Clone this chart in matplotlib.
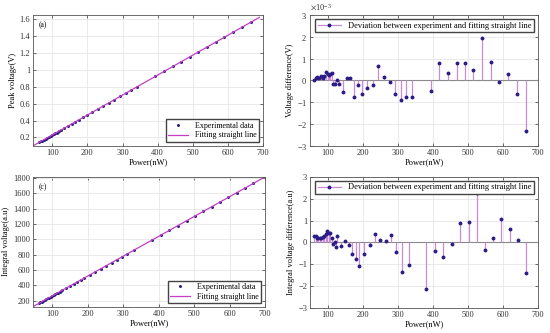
import numpy as np
import matplotlib
matplotlib.use("Agg")
import matplotlib.pyplot as plt
from matplotlib.lines import Line2D
from matplotlib.legend_handler import HandlerLine2D
from matplotlib.ticker import ScalarFormatter

plt.rcParams['font.family'] = ['Liberation Serif', 'DejaVu Serif']
plt.rcParams['font.size'] = 6
plt.rcParams['mathtext.fontset'] = 'stix'

# ---- data ----
# (a)/(b) peak voltage
power_b = [62, 67, 71, 76, 81, 86, 90, 95, 100, 105, 108, 112, 116, 120, 126, 133,
           145, 155, 165, 176, 188, 199, 214, 230, 245, 262, 277, 293, 310, 325, 342,
           394, 419, 444, 468, 492, 516, 541, 566, 590, 615, 640, 665]
peak_v = [0.140, 0.152, 0.161, 0.173, 0.185, 0.197, 0.206, 0.218, 0.230, 0.242, 0.249, 0.258,
          0.268, 0.277, 0.291, 0.308, 0.336, 0.360, 0.383, 0.409, 0.438, 0.464, 0.499, 0.537,
          0.573, 0.612, 0.648, 0.686, 0.726, 0.761, 0.801, 0.924, 0.983, 1.042, 1.098,
          1.155, 1.212, 1.271, 1.330, 1.386, 1.445, 1.504, 1.563]
dev_peak_mV = [0.03, 0.10, 0.15, 0.10, 0.20, 0.10, 0.20, 0.40, 0.30, 0.25, 0.30, 0.33,
               -0.15, -0.15, 0.00, -0.15, -0.55, 0.13, 0.10, -0.77, -0.22, -0.60, -0.35,
               -0.20, 0.68, 0.15, -0.08, -0.60, -0.92, -0.77, -0.77, -0.47, 0.82, 0.32,
               0.80, 0.78, 0.50, 1.93, 0.86, -0.05, 0.30, -0.62, -2.30]
fit_a_x = [45, 690]
fit_a_y = [0.100, 1.622]

# (c)/(d) integral voltage
power_d = [62, 66, 70, 74, 78, 82, 86, 90, 95, 99, 103, 107, 112, 116, 120, 124, 128,
           138, 150, 160, 170, 181, 190, 205, 221, 236, 251, 267, 281, 296, 311, 331,
           382, 406, 430, 454, 479, 502, 526, 550, 572, 596, 620, 644, 667]
integ_v = [169, 179, 190, 200, 210, 220, 231, 241, 254, 264, 274, 285, 298, 308, 318, 329,
           339, 365, 396, 421, 447, 475, 499, 537, 579, 617, 656, 697, 733, 772, 810,
           862, 993, 1055, 1117, 1179, 1243, 1303, 1364, 1426, 1483, 1545, 1607, 1669, 1728]
dev_integ = [0.30, 0.30, 0.20, 0.20, 0.18, 0.20, 0.25, 0.30, 0.40, 0.52, 0.42, 0.45, 0.20,
             -0.05, 0.00, -0.20, 0.28, -0.15, 0.05, -0.12, -0.52, -0.75, -1.08, -0.53,
             -0.13, 0.40, 0.10, 0.08, 0.33, -0.45, -1.35, -1.05, -2.15, -0.37, -0.67,
             -0.07, 0.87, 0.92, 2.27, -0.33, 0.20, 1.08, 0.62, 0.10, -1.38]
fit_c_x = [45, 700]
fit_c_y = [125, 1812]

dot_color = '#2b1d86'
fit_color = '#c23fc6'
stem_color = '#c98ad8'
legend_text = 'Deviation between experiment and fitting straight line'


class EndMarkerHandler(HandlerLine2D):
    # put the legend marker at the right end of the line, like MATLAB stem legends
    def get_xdata(self, legend, xdescent, ydescent, width, height, fontsize):
        xdata = [-xdescent, -xdescent + width]
        return xdata, [-xdescent + width * 0.92]


fig = plt.figure(figsize=(5.5, 3.33), dpi=100)
ax_a = fig.add_axes([0.060, 0.562, 0.418, 0.393])
ax_b = fig.add_axes([0.5636, 0.562, 0.4145, 0.393])
ax_c = fig.add_axes([0.060, 0.078, 0.422, 0.391])
ax_d = fig.add_axes([0.5636, 0.075, 0.4145, 0.394])


def style(ax):
    ax.grid(True, color='#e6e6e6', linewidth=0.6)
    ax.set_axisbelow(True)
    ax.tick_params(direction='in', top=True, right=True, length=2.5, width=0.5,
                   colors='#333333', labelsize=6, pad=2)
    for s in ax.spines.values():
        s.set_color('#555555')
        s.set_linewidth(0.6)


def stem_legend(ax):
    proxy = Line2D([0], [0], color=stem_color, linewidth=0.9, marker='o',
                   markersize=1.8, markerfacecolor=dot_color, markeredgecolor=dot_color)
    ax.legend([proxy], [legend_text], loc='upper right', fontsize=6, numpoints=1,
              handler_map={proxy: EndMarkerHandler()},
              handlelength=2.8, borderpad=0.3, fancybox=False,
              edgecolor='#444444', framealpha=1)


def stem(ax, x, y):
    ax.axhline(0, color='#8a8a8a', linewidth=0.8, zorder=1)
    mk, st, bl = ax.stem(x, y, basefmt=' ')
    plt.setp(st, color=stem_color, linewidth=0.9)
    plt.setp(mk, color=dot_color, markersize=1.8)


# (a)
ax_a.plot(power_b, peak_v, '.', color=dot_color, markersize=2.3, label='Experimental data')
ax_a.plot(fit_a_x, fit_a_y, '-', color=fit_color, linewidth=0.9, label='Fitting straight line')
ax_a.set_xlim(45, 700)
ax_a.set_ylim(0.1, 1.65)
ax_a.set_yticks([0.2, 0.4, 0.6, 0.8, 1.0, 1.2, 1.4, 1.6])
ax_a.set_yticklabels(['0.2', '0.4', '0.6', '0.8', '1', '1.2', '1.4', '1.6'])
ax_a.set_xlabel('Power(nW)', labelpad=1)
ax_a.set_ylabel('Peak voltage(V)', labelpad=2)
ax_a.text(0.025, 0.95, '(a)', transform=ax_a.transAxes, va='top', fontsize=5.5)
ax_a.legend(loc='lower right', fontsize=5.8, handlelength=2.5, borderpad=0.3,
            labelspacing=0.2, fancybox=False, edgecolor='#444444', framealpha=1)
style(ax_a)

# (b)
stem(ax_b, power_b, np.array(dev_peak_mV) * 1e-3)
ax_b.set_xlim(50, 700)
ax_b.set_ylim(-3e-3, 3e-3)
fmt = ScalarFormatter(useMathText=True)
fmt.set_powerlimits((-2, 2))
ax_b.yaxis.set_major_formatter(fmt)
ax_b.yaxis.get_offset_text().set_fontsize(6)
ax_b.set_xlabel('Power(nW)', labelpad=1)
ax_b.set_ylabel('Voltage difference(V)', labelpad=2)
ax_b.text(0.035, 0.93, '(b)', transform=ax_b.transAxes, va='top', fontsize=5.5)
stem_legend(ax_b)
style(ax_b)

# (c)
ax_c.plot(power_d, integ_v, '.', color=dot_color, markersize=2.3, label='Experimental data')
ax_c.plot(fit_c_x, fit_c_y, '-', color=fit_color, linewidth=0.9, label='Fitting straight line')
ax_c.set_xlim(45, 700)
ax_c.set_ylim(120, 1812)
ax_c.set_yticks(range(200, 1801, 200))
ax_c.set_xlabel('Power(nW)', labelpad=1)
ax_c.set_ylabel('Integral voltage(a.u)', labelpad=2)
ax_c.text(0.025, 0.95, '(c)', transform=ax_c.transAxes, va='top', fontsize=5.5)
ax_c.legend(loc='lower right', fontsize=5.8, handlelength=2.5, borderpad=0.3,
            labelspacing=0.2, fancybox=False, edgecolor='#444444', framealpha=1)
style(ax_c)

# (d)
stem(ax_d, power_d, dev_integ)
ax_d.set_xlim(50, 700)
ax_d.set_ylim(-3, 3)
ax_d.set_xlabel('Power(nW)', labelpad=1)
ax_d.set_ylabel('Integral voltage difference(a.u)', labelpad=2)
ax_d.text(0.035, 0.93, '(d)', transform=ax_d.transAxes, va='top', fontsize=5.5)
stem_legend(ax_d)
style(ax_d)

fig.savefig('out.png', dpi=100)
